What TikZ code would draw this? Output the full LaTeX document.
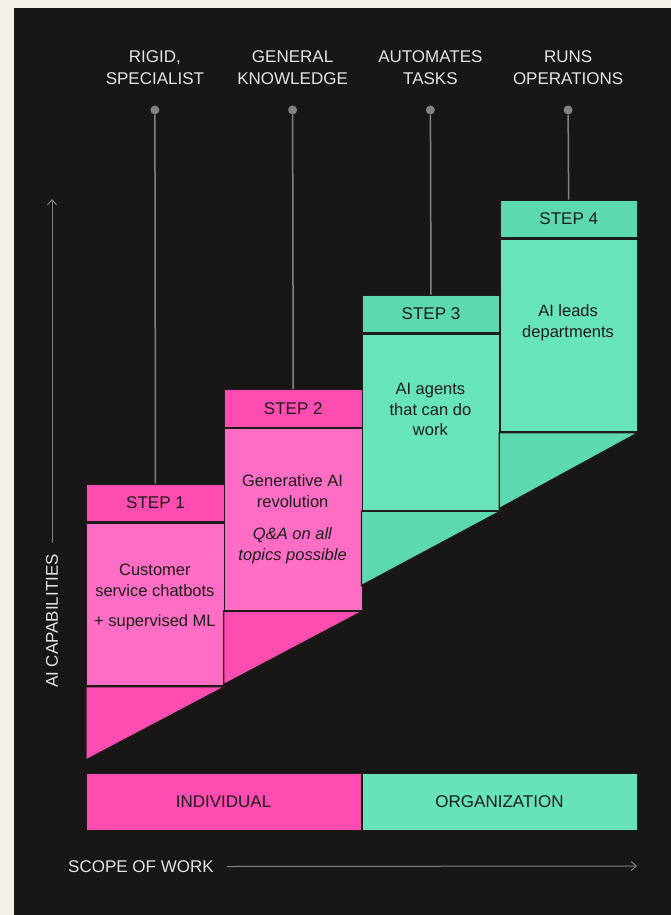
\documentclass[tikz,border=0pt]{standalone}
\usepackage{fontspec}
\setmainfont{Liberation Sans}
\usetikzlibrary{arrows.meta,calc}
\definecolor{cream}{HTML}{F3EFE9}
\definecolor{bg}{HTML}{191716}
\definecolor{pinkA}{HTML}{FF4CB0}
\definecolor{pinkB}{HTML}{FF6EC4}
\definecolor{greenA}{HTML}{5CD9B0}
\definecolor{greenB}{HTML}{68E4BA}
\definecolor{ink}{HTML}{1E1C1B}
\definecolor{lbl}{HTML}{E4E4E4}
\definecolor{axisc}{HTML}{828282}
\begin{document}
\begin{tikzpicture}[x=1pt,y=-1pt,
  cell/.style={draw=ink, line width=1.3pt, inner sep=0pt, minimum width=137.75pt, anchor=north west},
  hdr/.style={cell, minimum height=37.5pt, text=ink, font=\fontsize{17}{20}\selectfont},
  bodyc/.style={cell},
  tri/.style={draw=ink, line width=1.3pt, line join=miter},
  bodytxt/.style={text=ink, align=center, inner sep=0pt, anchor=north, font=\fontsize{16.5}{20.8}\selectfont},
  toplbl/.style={text=lbl, align=center, inner sep=0pt, font=\fontsize{17}{22}\selectfont},
  dotn/.style={circle, fill=axisc, inner sep=0pt, minimum size=9pt},
  conn/.style={draw=axisc, line width=1.5pt},
  axarr/.style={draw=axisc, line width=1pt, -{Straight Barb[length=5pt,width=9pt]}},
  bar/.style={draw=ink, line width=1pt, inner sep=0pt, minimum width=275pt, minimum height=57pt, text=ink, font=\fontsize{17}{20}\selectfont},
  axlbl/.style={text=lbl, inner sep=0pt, font=\fontsize{17}{20}\selectfont}
]
\fill[cream] (0,0) rectangle (671,915);
\fill[bg] (14,8) rectangle (671,915);
\useasboundingbox (0,0) rectangle (671,915);

% tips of lower triangles
\coordinate (tip1) at (86,760);
\coordinate (tip2) at (223.75,684.5);
\coordinate (tip3) at (361.5,585.5);
\coordinate (tip4) at (499.25,508.5);

% headers
\node[hdr, fill=pinkA] (h1) at (86,483.5) {STEP 1};
\node[hdr, fill=pinkA] (h2) at (223.75,389) {STEP 2};
\node[hdr, fill=greenA] (h3) at (361.5,294.5) {STEP 3};
\node[hdr, fill=greenA] (h4) at (499.25,199.5) {STEP 4};

% bodies
\node[bodyc, fill=pinkB, minimum height=163pt] (b1) at (h1.south west) {};
\node[bodyc, fill=pinkB, minimum height=182pt] (b2) at (h2.south west) {};
\node[bodyc, fill=greenB, minimum height=176.5pt] (b3) at (h3.south west) {};
\node[bodyc, fill=greenB, minimum height=193pt] (b4) at (h4.south west) {};

% lower triangles
\filldraw[tri, fill=pinkA] (b1.south west) -- (b1.south east) -- (tip1) -- cycle;
\filldraw[tri, fill=pinkA] (b2.south west) -- (b2.south east) -- (tip2) -- cycle;
\filldraw[tri, fill=greenA] (b3.south west) -- (b3.south east) -- (tip3) -- cycle;
\filldraw[tri, fill=greenA] (b4.south west) -- (b4.south east) -- (tip4) -- cycle;

% body texts
\node[bodytxt] (t1) at (154.9,563.8) {Customer\\service chatbots\\[9pt]+ supervised ML};
\node[bodytxt] (t2) at (292.6,474.8) {Generative AI\\revolution\\[11pt]\textit{Q\&A on all}\\\textit{topics possible}};
\node[bodytxt] (t3) at (430.4,382.8) {AI agents\\that can do\\work};
\node[bodytxt] (t4) at (568.1,304.8) {AI leads\\departments};

% top labels, dots and connectors
\node[toplbl] (l1) at (154.9,68) {RIGID,\\SPECIALIST};
\node[toplbl] (l2) at (292.6,68) {GENERAL\\KNOWLEDGE};
\node[toplbl] (l3) at (430.4,68) {AUTOMATES\\TASKS};
\node[toplbl] (l4) at (568.1,68) {RUNS\\OPERATIONS};
\node[dotn] (d1) at (154.9,110) {};
\node[dotn] (d2) at (292.6,110) {};
\node[dotn] (d3) at (430.4,110) {};
\node[dotn] (d4) at (568.1,110) {};
\draw[conn] (d1) -- (h1);
\draw[conn] (d2) -- (h2);
\draw[conn] (d3) -- (h3);
\draw[conn] (d4) -- (h4);

% bottom bars
\node[bar, fill=pinkA] (ind) at (223.5,801.5) {INDIVIDUAL};
\node[bar, fill=greenB!92!greenA] (org) at (499.5,801.5) {ORGANIZATION};

% axes
\node[axlbl, rotate=90] (cap) at (52,621) {AI CAPABILITIES};
\coordinate (capTop) at (52,199);
\draw[axarr] ([yshift=11pt]cap.east) -- (capTop);
\node[axlbl, anchor=west] (sw) at (68,866.5) {SCOPE OF WORK};
\coordinate (swEnd) at (637,866);
\draw[axarr] ([xshift=13pt]sw.east) -- (swEnd);
\end{tikzpicture}
\end{document}
